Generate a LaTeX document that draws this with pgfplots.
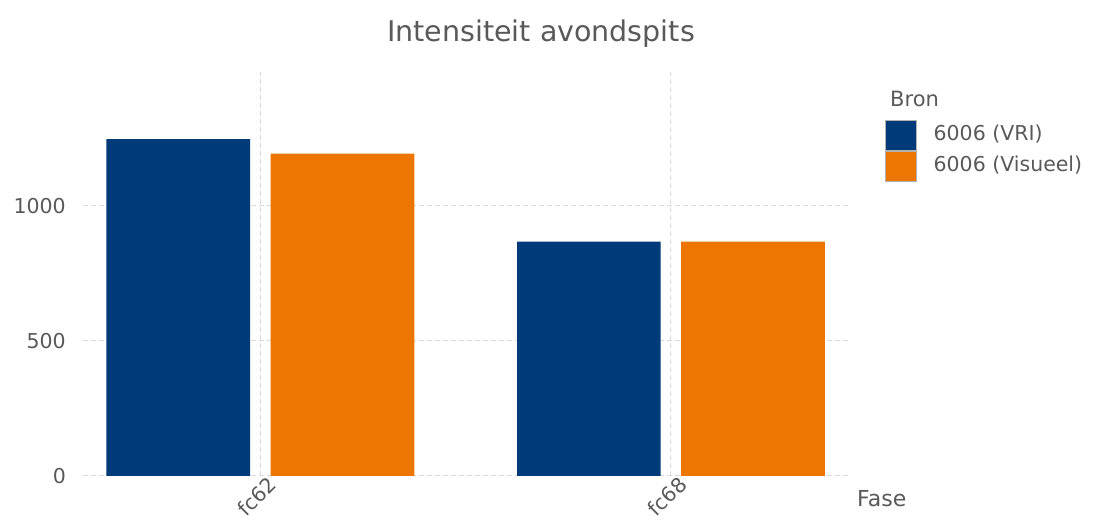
\documentclass[border=0pt]{standalone}
\usepackage{pgfplots}
\pgfplotsset{compat=1.18}
\usepackage{fontspec}
\setmainfont{DejaVu Sans}
\definecolor{vri}{RGB}{0,58,120}
\definecolor{vis}{RGB}{236,118,0}
\definecolor{txt}{RGB}{89,89,89}
\definecolor{gridc}{RGB}{218,218,218}
\begin{document}
\begin{tikzpicture}[x=1pt,y=1pt]
\path[use as bounding box] (0,0) rectangle (1096,524);
\begin{axis}[
  at={(83pt,48pt)}, anchor=south west, scale only axis,
  width=767pt, height=404pt,
  xmin=-0.432, xmax=1.436, ymin=0, ymax=1496,
  axis line style={draw=none}, tick style={draw=none},
  xtick={0,1}, xticklabels={fc62,fc68},
  ytick={0,500,1000},
  grid=major,
  major grid style={gridc, dash pattern=on 5pt off 3pt, line width=1pt},
  ybar, bar width=0.35,
  ticklabel style={font=\fontsize{20.5}{24}\selectfont, text=txt},
  yticklabel style={anchor=east, inner sep=0pt, xshift=-17pt},
  xticklabel style={xshift=12pt, yshift=0pt, rotate=45, anchor=east, inner sep=0pt},
  /pgf/number format/assume math mode=true,
  /pgf/number format/1000 sep={},
  legend style={at={(1.0457,0.8812)}, anchor=north west, draw=none, fill=none,
    inner sep=0pt, outer sep=0pt, row sep=0pt, column sep=17pt,
    font=\fontsize{20.5}{24}\selectfont, text=txt,
    nodes={inner sep=0pt, anchor=base west}},
  legend cell align=left,
]
\addplot[fill=vri, draw=none, bar shift=-0.2,
  legend image code/.code={\fill[vri, draw=gray!60, line width=0.6pt] (0pt,-9.4pt) rectangle (31pt,20.6pt);}]
  coordinates {(0,1247) (1,868)};
\addplot[fill=vis, draw=none, bar shift=0.2,
  legend image code/.code={\fill[vis, draw=gray!60, line width=0.6pt] (0pt,-9.4pt) rectangle (31pt,20.6pt);}]
  coordinates {(0,1194) (1,868)};
\legend{6006 (VRI), 6006 (Visueel)}
\end{axis}
\node[anchor=base, text=txt, font=\fontsize{28.5}{32}\selectfont, inner sep=0pt] at (541,482.3) {Intensiteit avondspits};
\node[anchor=west, text=txt, font=\fontsize{21}{24}\selectfont, inner sep=0pt] at (890,425) {Bron};
\node[anchor=west, text=txt, font=\fontsize{22}{26}\selectfont, inner sep=0pt] at (857,25) {Fase};
\end{tikzpicture}
\end{document}
